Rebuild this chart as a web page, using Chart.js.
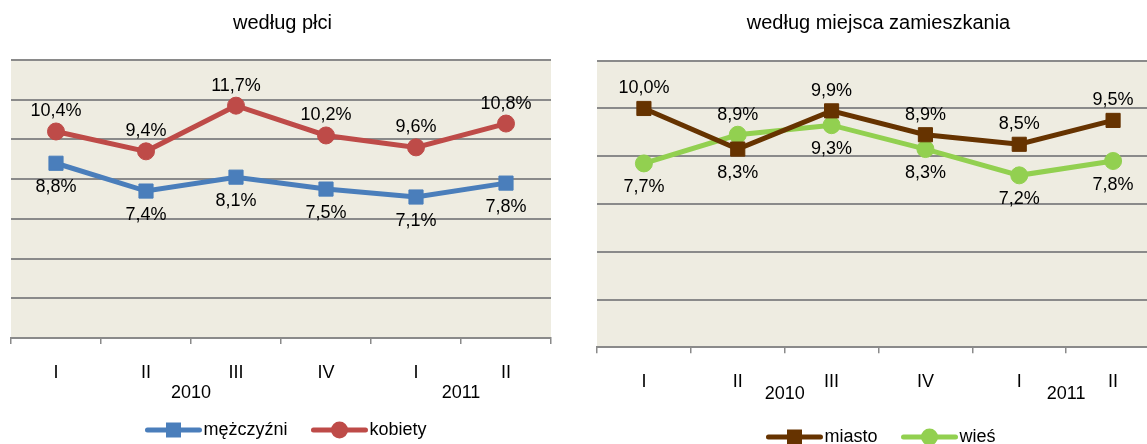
<!DOCTYPE html>
<html>
<head>
<meta charset="utf-8">
<script src="https://cdn.jsdelivr.net/npm/chart.js@4.4.1/dist/chart.umd.min.js"></script>
<style>
  html, body { margin: 0; padding: 0; background: #fff; overflow: hidden; width: 1147px; height: 444px; }
  canvas { position: absolute; top: 0; }
  #left { left: 0; }
  #right { left: 577px; }
</style>
</head>
<body>
<canvas id="left" width="562" height="444"></canvas>
<canvas id="right" width="604" height="444"></canvas>
<script>
const quarters = ['I', 'II', 'III', 'IV', 'I', 'II'];
const years = ['2010', '2011'];
const yearSpan = [4, 2];

const men = [8.8, 7.4, 8.1, 7.5, 7.1, 7.8];
const women = [10.4, 9.4, 11.7, 10.2, 9.6, 10.8];
const city = [10.0, 8.3, 9.9, 8.9, 8.5, 9.5];
const village = [7.7, 8.9, 9.3, 8.3, 7.2, 7.8];

// where each value label sits relative to its point
const menLabelPos = ['below', 'below', 'below', 'below', 'below', 'below'];
const womenLabelPos = ['above', 'above', 'above', 'above', 'above', 'above'];
const cityLabelPos = ['above', 'below', 'above', 'above', 'above', 'above'];
const villageLabelPos = ['below', 'above', 'below', 'below', 'below', 'below'];

const FONT = '"Liberation Sans", Arial, sans-serif';
const GRID = '#8a8a8a';
const TXT = 18;

const areaBg = {
  id: 'areaBg',
  beforeDraw(chart) {
    const { ctx, chartArea: a } = chart;
    ctx.save();
    ctx.fillStyle = '#EEECE1';
    ctx.fillRect(a.left, a.top, a.right - a.left, a.bottom - a.top);
    ctx.restore();
  }
};

const pointLabels = {
  id: 'pointLabels',
  afterDatasetsDraw(chart, args, opts) {
    const ctx = chart.ctx;
    ctx.save();
    ctx.font = TXT + 'px ' + FONT;
    ctx.fillStyle = '#000';
    ctx.textAlign = 'center';
    ctx.textBaseline = 'middle';
    chart.data.datasets.forEach((ds, i) => {
      const meta = chart.getDatasetMeta(i);
      meta.data.forEach((pt, j) => {
        const dy = ds.labelPos[j] === 'above' ? opts.above : opts.below;
        ctx.fillText(ds.data[j].toFixed(1).replace('.', ',') + '%', pt.x, pt.y + dy);
      });
    });
    ctx.restore();
  }
};

const yearLabels = {
  id: 'yearLabels',
  afterDraw(chart, args, opts) {
    const ctx = chart.ctx;
    const xs = chart.scales.x;
    ctx.save();
    ctx.font = TXT + 'px ' + FONT;
    ctx.fillStyle = '#000';
    ctx.textAlign = 'center';
    ctx.textBaseline = 'middle';
    let start = 0;
    years.forEach((y, i) => {
      const end = start + yearSpan[i] - 1;
      const x = (xs.getPixelForValue(start) + xs.getPixelForValue(end)) / 2;
      ctx.fillText(y, x, xs.top + opts.offset);
      start = end + 1;
    });
    ctx.restore();
  }
};

function drawMarker(ctx, style, x, y, color) {
  ctx.fillStyle = color;
  ctx.beginPath();
  if (style === 'rect') {
    ctx.rect(x - 7.5, y - 7.5, 15, 15);
  } else {
    ctx.arc(x, y, 8.5, 0, Math.PI * 2);
  }
  ctx.fill();
}

const lineLegend = {
  id: 'lineLegend',
  afterDraw(chart, args, opts) {
    const ctx = chart.ctx;
    const lineLen = 56, textGap = 2, itemGap = 24;
    ctx.save();
    ctx.font = TXT + 'px ' + FONT;
    const items = chart.data.datasets.map(ds => ({
      ds, w: lineLen + textGap + ctx.measureText(ds.label).width
    }));
    const total = items.reduce((s, it) => s + it.w, 0) + itemGap * (items.length - 1);
    let x = opts.cx - total / 2;
    items.forEach(({ ds, w }) => {
      ctx.strokeStyle = ds.borderColor;
      ctx.lineWidth = 5;
      ctx.lineCap = 'round';
      ctx.beginPath();
      ctx.moveTo(x + 2, opts.y);
      ctx.lineTo(x + lineLen - 2, opts.y);
      ctx.stroke();
      drawMarker(ctx, ds.pointStyle, x + lineLen / 2, opts.y, ds.borderColor);
      ctx.fillStyle = '#000';
      ctx.textAlign = 'left';
      ctx.textBaseline = 'middle';
      ctx.fillText(ds.label, x + lineLen + textGap, opts.y);
      x += w + itemGap;
    });
    ctx.restore();
  }
};

function series(label, data, color, style, labelPos) {
  return {
    label, data, labelPos,
    borderColor: color,
    backgroundColor: color,
    pointBackgroundColor: color,
    pointBorderColor: color,
    borderWidth: 5,
    pointStyle: style,
    pointRadius: style === 'rect' ? 10 : 8.5,
    pointBorderWidth: 1,
    tension: 0
  };
}

function makeChart(id, title, datasets, yMax, lay) {
  return new Chart(document.getElementById(id), {
    type: 'line',
    data: { labels: quarters, datasets },
    options: {
      responsive: false,
      animation: false,
      layout: { padding: { left: lay.left, right: lay.right, top: 0, bottom: 0 } },
      scales: {
        x: {
          offset: true,
          grid: { offset: true, drawOnChartArea: false, drawTicks: true, tickLength: 6, color: GRID, lineWidth: 1.5 },
          border: { display: true, color: GRID, width: 2 },
          ticks: { color: '#000', font: { size: TXT, family: FONT }, padding: 18, maxRotation: 0, autoSkip: false },
          afterFit(s) { s.height = lay.axisH; }
        },
        y: {
          min: 0, max: yMax,
          ticks: { display: false, stepSize: 2 },
          grid: { color: GRID, lineWidth: 2, drawTicks: false },
          border: { display: false },
          afterFit(s) { s.width = 0; }
        }
      },
      plugins: {
        legend: { display: false },
        tooltip: { enabled: false },
        title: {
          display: true, text: title, color: '#000',
          font: { size: 20, family: FONT, weight: 'normal' },
          padding: { top: 11, bottom: lay.titleBottom }
        },
        pointLabels: { above: -20, below: 24 },
        yearLabels: { offset: lay.yearOffset },
        lineLegend: { cx: lay.legendX, y: lay.legendY }
      }
    },
    plugins: [areaBg, pointLabels, yearLabels, lineLegend]
  });
}

makeChart('left', 'według płci', [
  series('mężczyźni', men, '#4A7EBB', 'rect', menLabelPos),
  series('kobiety', women, '#BE4B48', 'circle', womenLabelPos)
], 14, { left: 9.5, right: 6.5, axisH: 106, titleBottom: 25, yearOffset: 55, legendX: 286, legendY: 430 });

makeChart('right', 'według miejsca zamieszkania', [
  series('miasto', city, '#663300', 'rect', cityLabelPos),
  series('wieś', village, '#92D050', 'circle', villageLabelPos)
], 12, { left: 20, right: 21, axisH: 96.7, titleBottom: 25.7, yearOffset: 47, legendX: 304, legendY: 437 });
</script>
</body>
</html>
